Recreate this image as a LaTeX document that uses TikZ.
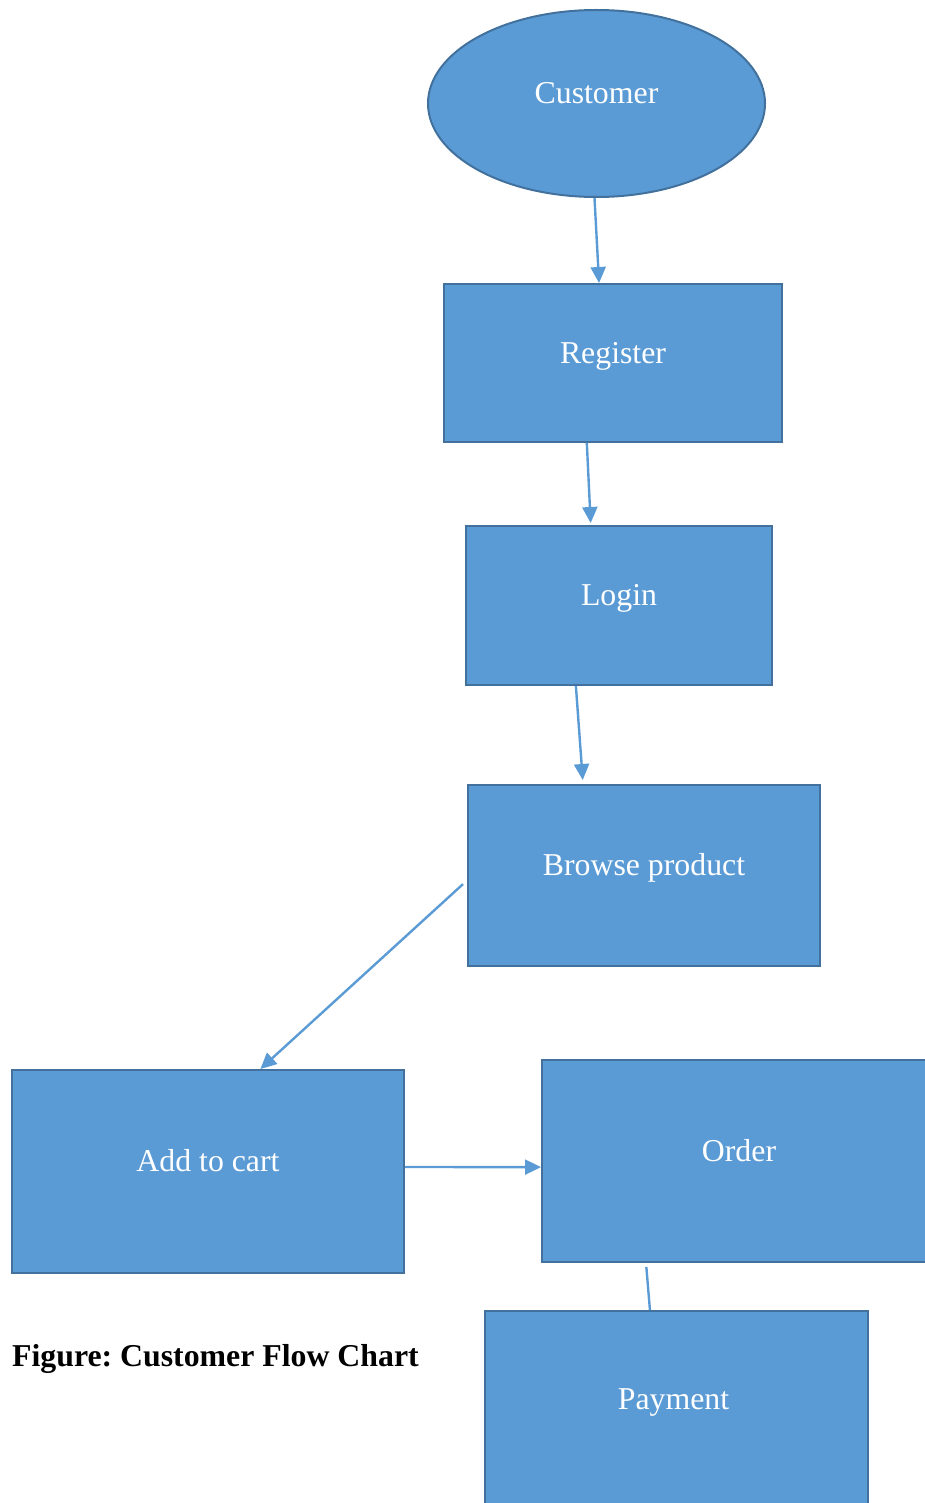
\documentclass[tikz,border=0pt]{standalone}
\usepackage{fontspec}
\setmainfont{Liberation Serif}
\usetikzlibrary{shapes.geometric,arrows.meta,calc}
\definecolor{boxfill}{HTML}{5B9BD5}
\definecolor{boxline}{HTML}{41719C}
\frenchspacing
\tikzset{
  shapebase/.style={fill=boxfill, draw=boxline, line width=2pt, text=white,
    font=\fontsize{31.8}{36}\selectfont, text height=21pt, text depth=21pt, inner sep=0pt},
  stepbox/.style={shapebase, rectangle},
  startoval/.style={shapebase, ellipse},
  flow/.style={draw=boxfill, line width=2.4pt, -{Triangle[length=16pt,width=15pt]}},
  plainflow/.style={draw=boxfill, line width=2.4pt}
}
\begin{document}
\begin{tikzpicture}[x=1pt,y=-1pt]
\useasboundingbox (0,0) rectangle (925,1503);
\clip (0,0) rectangle (925,1503);
\node[startoval, minimum width=337pt, minimum height=187pt] (cust) at (596.5,103.5) {Customer};
\node[stepbox, minimum width=338pt, minimum height=158pt] (reg) at (613,363) {Register};
\node[stepbox, minimum width=306pt, minimum height=159pt] (login) at (619,605.5) {Login};
\node[stepbox, minimum width=352pt, minimum height=181pt] (browse) at (644,875.5) {Browse product};
\node[stepbox, minimum width=392pt, minimum height=203pt] (cart) at (208,1171.5) {Add to cart};
\node[stepbox, minimum width=394pt, minimum height=202pt] (order) at (739,1161) {Order};
\node[stepbox, minimum width=383pt, minimum height=196pt] (pay) at (676.5,1409) {\hspace*{-6pt}Payment};
\node[anchor=base west, font=\fontsize{31.8}{36}\selectfont\bfseries, inner sep=0pt] (cap) at (12,1366) {Figure: Customer Flow Chart};

\draw[flow] ($(cust.south)+(-2,0)$) -- ($(reg.north west)!0.459!(reg.north east)$);
\draw[flow] ($(reg.south west)!0.423!(reg.south east)$) -- ($(login.north west)!0.408!(login.north east)+(0,-2)$);
\draw[flow] ($(login.south west)!0.36!(login.south east)$) -- ($(browse.north west)!0.327!(browse.north east)+(0,-4)$);
\draw[flow] ($(browse.north west)!0.547!(browse.south west)+(-4,0)$) -- ($(cart.north west)!0.633!(cart.north east)$);
\draw[flow] ($(cart.north east)!0.478!(cart.south east)$) -- ($(order.north west)!0.53!(order.south west)$);
\draw[plainflow] ($(order.south west)!0.266!(order.south east)+(0,4)$) -- ($(pay.north west)!0.431!(pay.north east)$);
\end{tikzpicture}
\end{document}
